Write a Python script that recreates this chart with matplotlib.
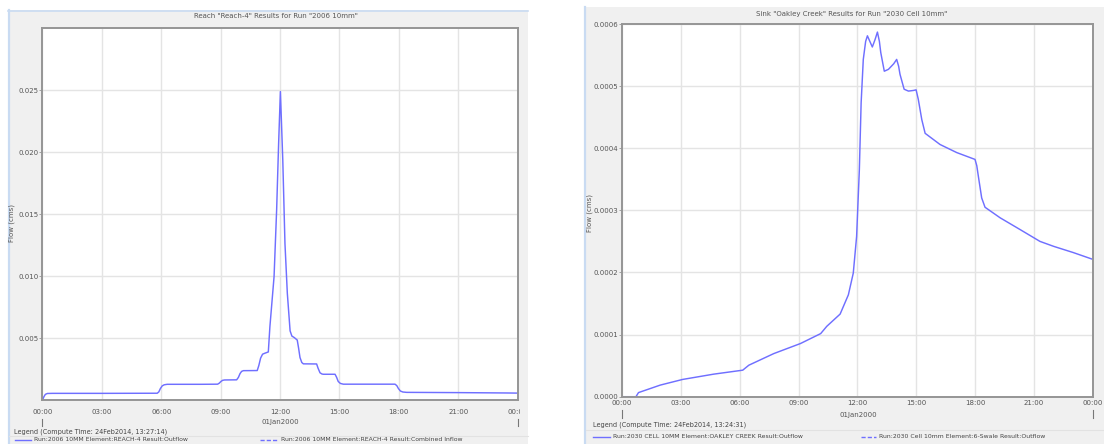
import matplotlib
matplotlib.use("Agg")
import matplotlib.pyplot as plt
from matplotlib.patches import Rectangle
from matplotlib.lines import Line2D
from matplotlib.transforms import Bbox

# ---------------- data ----------------
hour_ticks = [0, 3, 6, 9, 12, 15, 18, 21, 24]
hour_labels = ["00:00", "03:00", "06:00", "09:00", "12:00", "15:00", "18:00", "21:00", "00:00"]
date_label = "01Jan2000"

# Left chart: Reach-4 outflow (cms)
reach_hours = [0.0, 0.08, 0.15, 0.25, 0.5, 3.0, 5.8, 5.88, 5.96, 6.05, 6.15, 6.3, 8.0, 8.85,
               8.93, 9.02, 9.1, 9.2, 9.81, 9.9, 9.98, 10.06, 10.15, 10.85, 10.93, 11.02,
               11.12, 11.24, 11.41, 11.49, 11.70, 11.83, 11.93, 12.02, 12.14, 12.25, 12.37,
               12.51, 12.6, 12.72, 12.87, 12.94, 13.01, 13.1, 13.18, 13.85, 13.92, 14.02,
               14.12, 14.19, 14.78, 14.86, 14.94, 15.05, 15.2, 17.81, 17.9, 17.98, 18.08,
               18.2, 18.4, 21.0, 23.5, 24.0]
reach_flow = [0.0, 0.0003, 0.00048, 0.00055, 0.00056, 0.00056, 0.00057, 0.00068, 0.00095,
              0.00116, 0.00125, 0.00129, 0.00129, 0.0013, 0.00138, 0.00152, 0.00161,
              0.00164, 0.00165, 0.00185, 0.00215, 0.00233, 0.00239, 0.0024, 0.0028, 0.0034,
              0.00372, 0.0038, 0.0039, 0.00594, 0.00997, 0.01535, 0.0207, 0.0249, 0.0194,
              0.01266, 0.00863, 0.0056, 0.00518, 0.00506, 0.00486, 0.0042, 0.00345, 0.00305,
              0.00294, 0.00293, 0.0026, 0.00222, 0.00212, 0.0021, 0.0021, 0.00185, 0.00152,
              0.00136, 0.0013, 0.0013, 0.00118, 0.00095, 0.00075, 0.00067, 0.00064, 0.00062,
              0.00059, 0.00058]

# Right chart: Oakley Creek outflow (cms)
sink_hours = [0.0, 0.72, 0.85, 1.96, 3.10, 4.68, 6.16, 6.47, 7.74, 9.10, 10.13, 10.44, 11.12,
              11.54, 11.79, 11.96, 12.10, 12.19, 12.30, 12.42, 12.51, 12.62, 12.76, 12.9,
              13.02, 13.12, 13.19, 13.37, 13.58, 13.85, 14.00, 14.1, 14.17, 14.38, 14.60,
              14.85, 14.99, 15.10, 15.28, 15.45, 16.21, 17.06, 17.99, 18.08, 18.16, 18.33,
              18.50, 19.27, 20.29, 21.30, 22.0, 23.0, 24.0]
sink_flow = [0.0, 0.0, 0.0000066, 0.0000187, 0.0000278, 0.0000363, 0.0000427, 0.0000507,
             0.0000694, 0.0000856, 0.0001016, 0.0001133, 0.000133, 0.000164, 0.000199,
             0.000258, 0.000366, 0.000473, 0.000543, 0.000572, 0.000581, 0.000573, 0.000563,
             0.000575, 0.000587, 0.000572, 0.000554, 0.000524, 0.000527, 0.000536, 0.000543,
             0.000532, 0.000519, 0.000495, 0.000492, 0.000493, 0.000494, 0.000479, 0.000446,
             0.000424, 0.000406, 0.000393, 0.000382, 0.000372, 0.000355, 0.000320, 0.000305,
             0.000288, 0.000269, 0.000250, 0.000242, 0.000232, 0.000221]

reach_yticks = [0.005, 0.010, 0.015, 0.020, 0.025]
reach_ylabels = ["0.005", "0.010", "0.015", "0.020", "0.025"]
sink_yticks = [0.0, 0.0001, 0.0002, 0.0003, 0.0004, 0.0005, 0.0006]
sink_ylabels = ["0.0000", "0.0001", "0.0002", "0.0003", "0.0004", "0.0005", "0.0006"]

left_title = 'Reach "Reach-4" Results for Run "2006 10mm"'
right_title = 'Sink "Oakley Creek" Results for Run "2030 Cell 10mm"'
left_legend_title = "Legend (Compute Time: 24Feb2014, 13:27:14)"
right_legend_title = "Legend (Compute Time: 24Feb2014, 13:24:31)"
left_entries = ["Run:2006 10MM Element:REACH-4 Result:Outflow",
                "Run:2006 10MM Element:REACH-4 Result:Combined Inflow"]
right_entries = ["Run:2030 CELL 10MM Element:OAKLEY CREEK Result:Outflow",
                 "Run:2030 Cell 10mm Element:6-Swale Result:Outflow"]
ylabel = "Flow (cms)"

# ---------------- style ----------------
W, H = 1104, 444
LINE = "#6f6fff"
TXT = "#555555"
GRID = "#e4e4e4"
SPINE = "#959595"
BG = "#f0f0f0"
BORDER = "#c9dbf2"
FS = 5.0

plt.rcParams["font.family"] = ["DejaVu Sans"]

fig = plt.figure(figsize=(W / 100, H / 100), dpi=100)
fig.patch.set_facecolor("white")


def fx(x):
    return x / W


def fy(y):
    return 1 - y / H


# panel backgrounds
fig.add_artist(Rectangle((fx(8), fy(444)), fx(520), (444 - 10) / H, transform=fig.transFigure,
                         facecolor=BG, edgecolor="none", zorder=-10))
fig.add_artist(Rectangle((fx(584), fy(444)), fx(520), (444 - 7) / H, transform=fig.transFigure,
                         facecolor=BG, edgecolor="none", zorder=-10))
fig.add_artist(Line2D([fx(8.8), fx(8.8)], [fy(10), fy(444)], color=BORDER, lw=1.6, zorder=-5))
fig.add_artist(Line2D([fx(8), fx(528)], [fy(10.6), fy(10.6)], color=BORDER, lw=1.2, zorder=-5))
fig.add_artist(Line2D([fx(585), fx(585)], [fy(7), fy(444)], color=BORDER, lw=1.6, zorder=-5))
# faint separators in legend area
fig.add_artist(Line2D([fx(9), fx(528)], [fy(436), fy(436)], color="#e2e2e2", lw=0.8, zorder=-5))
fig.add_artist(Line2D([fx(586), fx(1104)], [fy(430), fy(430)], color="#e2e2e2", lw=0.8, zorder=-5))


def make_axes(x0, x1, ytop, ybot):
    ax = fig.add_axes([fx(x0), fy(ybot), fx(x1 - x0), (ybot - ytop) / H])
    ax.set_facecolor("white")
    for s in ax.spines.values():
        s.set_color(SPINE)
        s.set_linewidth(1.4)
    ax.grid(True, color=GRID, lw=1.0)
    ax.set_axisbelow(True)
    ax.set_xlim(0, 24)
    ax.set_xticks(hour_ticks)
    ax.set_xticklabels(hour_labels)
    ax.tick_params(axis="x", length=0, labelsize=FS, labelcolor=TXT)
    ax.tick_params(axis="y", length=2.2, width=0.6, color=SPINE, pad=0.6, labelsize=FS,
                   labelcolor=TXT)
    return ax


# ---------------- left chart ----------------
axL = make_axes(42.4, 517.6, 28.3, 400.3)
axL.plot(reach_hours, reach_flow, color=LINE, lw=1.05, solid_joinstyle="round")
axL.set_ylim(0, 0.03)
axL.set_yticks(reach_yticks)
axL.set_yticklabels(reach_ylabels)
axL.tick_params(axis="x", pad=6.5)
axL.set_ylabel(ylabel, fontsize=FS, color=TXT)
axL.yaxis.set_label_coords(-0.0577, 0.477)

# ---------------- right chart ----------------
axR = make_axes(621.8, 1093.0, 24.0, 396.7)
axR.plot(sink_hours, sink_flow, color=LINE, lw=1.05, solid_joinstyle="round")
axR.set_ylim(0, 0.0006)
axR.set_yticks(sink_yticks)
axR.set_yticklabels(sink_ylabels)
axR.tick_params(axis="x", pad=2.6)
axR.set_ylabel(ylabel, fontsize=FS, color=TXT)
axR.yaxis.set_label_coords(-0.0611, 0.493)

# clip last tick labels at panel edge
fig.canvas.draw()
for ax, xclip in ((axL, 520.0), (axR, 1102.0)):
    lab = ax.xaxis.get_major_ticks()[-1].label1
    lab.set_clip_box(Bbox([[0, 0], [xclip, H]]))
    lab.set_clip_on(True)

# titles
fig.text(fx(276), fy(15.5), left_title, fontsize=FS, color=TXT, ha="center", va="center")
fig.text(fx(852), fy(14.0), right_title, fontsize=FS, color=TXT, ha="center", va="center")

# date labels and day markers
fig.text(fx(280), fy(421.5), date_label, fontsize=FS, color=TXT, ha="center", va="center")
fig.text(fx(858), fy(414.5), date_label, fontsize=FS, color=TXT, ha="center", va="center")
for xp, (ya, yb) in ((42.4, (418.5, 426)), (517.6, (418.5, 426)),
                     (621.8, (410, 418)), (1093.0, (410, 418))):
    fig.add_artist(Line2D([fx(xp), fx(xp)], [fy(ya), fy(yb)], color="#777777", lw=0.8))

# legends
fig.text(fx(14), fy(431.5), left_legend_title, fontsize=FS - 0.3, color="#444444",
         ha="left", va="center")
fig.text(fx(593), fy(424.5), right_legend_title, fontsize=FS - 0.3, color="#444444",
         ha="left", va="center")

for (x0, x1, xt, yy, ls, txt) in (
        (15, 31, 34, 439.5, "-", left_entries[0]),
        (260, 277, 281, 439.5, "--", left_entries[1]),
        (593, 610, 613, 436.5, "-", right_entries[0]),
        (861, 876, 879, 436.5, "--", right_entries[1])):
    fig.add_artist(Line2D([fx(x0), fx(x1)], [fy(yy), fy(yy)], color=LINE, lw=1.0, ls=ls,
                          dashes=(3, 1.5) if ls == "--" else (None, None)))
    fig.text(fx(xt), fy(yy), txt, fontsize=FS - 0.6, color="#444444", ha="left", va="center")

fig.savefig("out.png", dpi=100, facecolor=fig.get_facecolor())
